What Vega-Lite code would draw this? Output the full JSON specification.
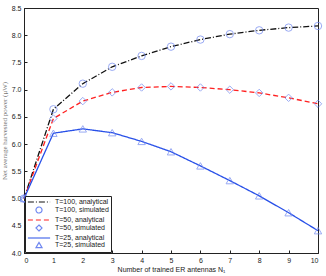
{
  "$schema": "https://vega.github.io/schema/vega-lite/v6.json",
  "autosize": {"type": "none"},
  "padding": {"left": 24, "top": 8, "right": 8, "bottom": 23},
  "width": 294,
  "height": 245,
  "background": "white",
  "config": {
    "view": {"stroke": "#222", "strokeWidth": 1},
    "axis": {"labelFont": "Liberation Sans", "labelFontSize": 7, "labelColor": "#222", "tickColor": "#222", "domainColor": "#222", "tickSize": -3, "labelPadding": 6, "grid": false, "titleFont": "Liberation Sans", "titleFontWeight": "normal", "titleFontSize": 7, "titleColor": "#222"}
  },
  "data": {"values": [
    {"N":0,"P":5.0,"T":"100","kind":"analytical"},{"N":1,"P":6.64,"T":"100","kind":"analytical"},{"N":2,"P":7.11,"T":"100","kind":"analytical"},{"N":3,"P":7.42,"T":"100","kind":"analytical"},{"N":4,"P":7.62,"T":"100","kind":"analytical"},{"N":5,"P":7.79,"T":"100","kind":"analytical"},{"N":6,"P":7.92,"T":"100","kind":"analytical"},{"N":7,"P":8.02,"T":"100","kind":"analytical"},{"N":8,"P":8.09,"T":"100","kind":"analytical"},{"N":9,"P":8.14,"T":"100","kind":"analytical"},{"N":10,"P":8.17,"T":"100","kind":"analytical"},
    {"N":0,"P":5.0,"T":"100","kind":"simulated"},{"N":1,"P":6.64,"T":"100","kind":"simulated"},{"N":2,"P":7.11,"T":"100","kind":"simulated"},{"N":3,"P":7.42,"T":"100","kind":"simulated"},{"N":4,"P":7.62,"T":"100","kind":"simulated"},{"N":5,"P":7.79,"T":"100","kind":"simulated"},{"N":6,"P":7.92,"T":"100","kind":"simulated"},{"N":7,"P":8.02,"T":"100","kind":"simulated"},{"N":8,"P":8.09,"T":"100","kind":"simulated"},{"N":9,"P":8.14,"T":"100","kind":"simulated"},{"N":10,"P":8.17,"T":"100","kind":"simulated"},
    {"N":0,"P":5.0,"T":"50","kind":"analytical"},{"N":1,"P":6.47,"T":"50","kind":"analytical"},{"N":2,"P":6.79,"T":"50","kind":"analytical"},{"N":3,"P":6.95,"T":"50","kind":"analytical"},{"N":4,"P":7.04,"T":"50","kind":"analytical"},{"N":5,"P":7.06,"T":"50","kind":"analytical"},{"N":6,"P":7.04,"T":"50","kind":"analytical"},{"N":7,"P":7.0,"T":"50","kind":"analytical"},{"N":8,"P":6.94,"T":"50","kind":"analytical"},{"N":9,"P":6.85,"T":"50","kind":"analytical"},{"N":10,"P":6.74,"T":"50","kind":"analytical"},
    {"N":0,"P":5.0,"T":"50","kind":"simulated"},{"N":1,"P":6.47,"T":"50","kind":"simulated"},{"N":2,"P":6.79,"T":"50","kind":"simulated"},{"N":3,"P":6.95,"T":"50","kind":"simulated"},{"N":4,"P":7.04,"T":"50","kind":"simulated"},{"N":5,"P":7.06,"T":"50","kind":"simulated"},{"N":6,"P":7.04,"T":"50","kind":"simulated"},{"N":7,"P":7.0,"T":"50","kind":"simulated"},{"N":8,"P":6.94,"T":"50","kind":"simulated"},{"N":9,"P":6.85,"T":"50","kind":"simulated"},{"N":10,"P":6.74,"T":"50","kind":"simulated"},
    {"N":0,"P":5.0,"T":"25","kind":"analytical"},{"N":1,"P":6.2,"T":"25","kind":"analytical"},{"N":2,"P":6.28,"T":"25","kind":"analytical"},{"N":3,"P":6.21,"T":"25","kind":"analytical"},{"N":4,"P":6.05,"T":"25","kind":"analytical"},{"N":5,"P":5.86,"T":"25","kind":"analytical"},{"N":6,"P":5.6,"T":"25","kind":"analytical"},{"N":7,"P":5.33,"T":"25","kind":"analytical"},{"N":8,"P":5.05,"T":"25","kind":"analytical"},{"N":9,"P":4.74,"T":"25","kind":"analytical"},{"N":10,"P":4.41,"T":"25","kind":"analytical"},
    {"N":0,"P":5.0,"T":"25","kind":"simulated"},{"N":1,"P":6.2,"T":"25","kind":"simulated"},{"N":2,"P":6.28,"T":"25","kind":"simulated"},{"N":3,"P":6.21,"T":"25","kind":"simulated"},{"N":4,"P":6.05,"T":"25","kind":"simulated"},{"N":5,"P":5.86,"T":"25","kind":"simulated"},{"N":6,"P":5.6,"T":"25","kind":"simulated"},{"N":7,"P":5.33,"T":"25","kind":"simulated"},{"N":8,"P":5.05,"T":"25","kind":"simulated"},{"N":9,"P":4.74,"T":"25","kind":"simulated"},{"N":10,"P":4.41,"T":"25","kind":"simulated"}
  ]},
  "transform": [{"calculate": "'T=' + datum.T + ', ' + datum.kind", "as": "label"}],
  "encoding": {
    "x": {"field": "N", "type": "quantitative", "scale": {"domain": [0, 10], "nice": false}, "axis": {"title": "Number of trained ER antennas N\u2081", "values": [0,1,2,3,4,5,6,7,8,9,10], "titlePadding": 2}},
    "y": {"field": "P", "type": "quantitative", "scale": {"domain": [4, 8.5], "nice": false, "zero": false}, "axis": {"title": "Net average harvested power (\u03bcW)", "values": [4,4.5,5,5.5,6,6.5,7,7.5,8,8.5], "titleFont": "Liberation Serif", "titleColor": "#777", "titlePadding": 4}}
  },
  "layer": [
    {
      "transform": [{"filter": "datum.kind == 'analytical'"}],
      "mark": {"type": "line", "strokeWidth": 1.3},
      "encoding": {
        "color": {"field": "label", "type": "nominal", "scale": {"domain": ["T=100, analytical","T=100, simulated","T=50, analytical","T=50, simulated","T=25, analytical","T=25, simulated"], "range": ["#111111","#6f87f0","#ff2020","#6f87f0","#2850e8","#6f87f0"]},
          "legend": {"title": null, "orient": "bottom-left", "offset": 1, "fillColor": "white", "strokeColor": "#222", "padding": 2, "labelFont": "Liberation Sans", "labelFontSize": 7, "labelColor": "#222", "rowPadding": -1, "symbolSize": 36, "symbolOffset": 8, "symbolStrokeWidth": 1.2, "labelOffset": 12,
            "encode": {"symbols": {"update": {"strokeDash": {"signal": "datum.value === 'T=100, analytical' ? [5,2,1,2] : datum.value === 'T=50, analytical' ? [4,2] : [1,0]"}}}}}},
        "strokeDash": {"field": "label", "type": "nominal", "scale": {"domain": ["T=100, analytical","T=100, simulated","T=50, analytical","T=50, simulated","T=25, analytical","T=25, simulated"], "range": [[6,2,1,2],[1,0],[5,3],[1,0],[1,0],[1,0]]}, "legend": null}
      }
    },
    {
      "transform": [{"filter": "datum.kind == 'simulated'"}],
      "mark": {"type": "point", "filled": false, "size": 55, "strokeWidth": 1},
      "encoding": {
        "color": {"field": "label", "type": "nominal"},
        "shape": {"field": "label", "type": "nominal", "scale": {"domain": ["T=100, analytical","T=100, simulated","T=50, analytical","T=50, simulated","T=25, analytical","T=25, simulated"], "range": ["M-3.7,0L3.7,0","circle","M-3.7,0L3.7,0","diamond","M-3.7,0L3.7,0","triangle-up"]}}
      }
    }
  ]
}
